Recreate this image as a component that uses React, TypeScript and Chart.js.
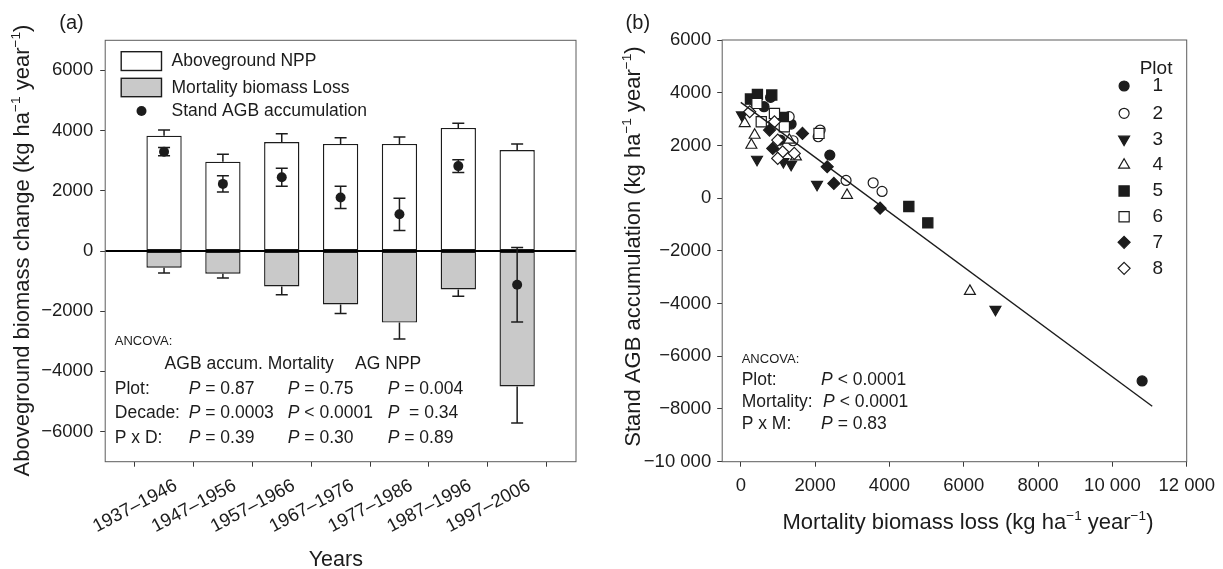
import React, { useEffect, useRef } from 'react';
import { Chart, registerables } from 'chart.js';

Chart.register(...registerables);

const FAMILY = "'Liberation Sans', Arial, Helvetica, sans-serif";
const INK = '#1c1c1c';
const TICK = '#3a3a3a';
const FRAME = '#5c5c5c';
const GREY_FILL = '#c9c9c9';

// ---------- Panel (a): decadal biomass budget ----------
const periods = ['1937–1946', '1947–1956', '1957–1966', '1967–1976', '1977–1986', '1987–1996', '1997–2006'];
const periodPos = [1, 2, 3, 4, 5, 6, 7];
const nppMean = [3833, 2967, 3622, 3556, 3556, 4089, 3356];
const nppSE = [190, 245, 270, 210, 230, 155, 200];
const mortMean = [-556, -756, -1178, -1778, -2378, -1278, -4500];
const mortSE = [177, 144, 278, 300, 544, 222, 1211];
const agbMean = [3300, 2230, 2450, 1780, 1220, 2820, -1120];
const agbSE = [135, 270, 300, 370, 535, 215, 1240];
const yTicksA = [-6000, -4000, -2000, 0, 2000, 4000, 6000];

// ---------- Panel (b): accumulation vs mortality by plot ----------
const plot1Mort = [385, 625, 802, 1354, 1062, 2396, 10800];
const plot1Accum = [3659, 3469, 3823, 2810, 2203, 1633, -6937];
const plot2Mort = [1302, 1406, 2083, 2135, 2833, 3562, 3802];
const plot2Accum = [3089, 2178, 2329, 2583, 671, 582, 253];
const plot3Mort = [30, 437, 1146, 1354, 2052, 6853];
const plot3Accum = [3152, 1469, 1380, 1279, 519, -4226];
const plot4Mort = [107, 373, 285, 1306, 1484, 2859, 6166];
const plot4Accum = [2835, 2392, 2013, 2203, 1570, 114, -3531];
const plot5Mort = [260, 448, 834, 1146, 4522, 5033];
const plot5Accum = [3760, 3937, 3912, 3064, -316, -937];
const plot6Mort = [435, 551, 906, 1172, 2105];
const plot6Accum = [3595, 2899, 3215, 2709, 2456];
const plot7Mort = [773, 1660, 861, 2326, 2505, 3749];
const plot7Accum = [2582, 2456, 1886, 1190, 557, -380];
const plot8Mort = [240, 906, 994, 1127, 994, 1439];
const plot8Accum = [3278, 2899, 2203, 1759, 1506, 1696];
const fitLineMort = [0, 11072];
const fitLineAccum = [3634, -7898];
const xTicksB = [0, 2000, 4000, 6000, 8000, 10000, 12000];
const plotLabels = ['1', '2', '3', '4', '5', '6', '7', '8'];

type Marker = { style: string; radius: number; rotation: number; filled: boolean };
const plotMarkers: Marker[] = [
  { style: 'circle', radius: 5, rotation: 0, filled: true },
  { style: 'circle', radius: 5, rotation: 0, filled: false },
  { style: 'triangle', radius: 6.3, rotation: 180, filled: true },
  { style: 'triangle', radius: 6.3, rotation: 0, filled: false },
  { style: 'rect', radius: 7.2, rotation: 0, filled: true },
  { style: 'rect', radius: 7.2, rotation: 0, filled: false },
  { style: 'rectRot', radius: 6, rotation: 0, filled: true },
  { style: 'rectRot', radius: 6, rotation: 0, filled: false },
];
const plotSeries = [
  [plot1Mort, plot1Accum], [plot2Mort, plot2Accum], [plot3Mort, plot3Accum], [plot4Mort, plot4Accum],
  [plot5Mort, plot5Accum], [plot6Mort, plot6Accum], [plot7Mort, plot7Accum], [plot8Mort, plot8Accum],
];

// ---------- text helpers ----------
type Run = { t: string; it?: boolean; sup?: boolean };
const fontOf = (size: number, it?: boolean) => `${it ? 'italic ' : ''}${size}px ${FAMILY}`;

function runsWidth(ctx: CanvasRenderingContext2D, runs: Run[], size: number) {
  let w = 0;
  for (const r of runs) {
    ctx.font = fontOf(r.sup ? size * 0.62 : size, r.it);
    w += ctx.measureText(r.t).width;
  }
  return w;
}

function drawRuns(ctx: CanvasRenderingContext2D, runs: Run[], x: number, y: number, size: number, align: 'left' | 'center' = 'left') {
  ctx.save();
  ctx.fillStyle = INK;
  ctx.textBaseline = 'middle';
  ctx.textAlign = 'left';
  let cx = align === 'center' ? x - runsWidth(ctx, runs, size) / 2 : x;
  for (const r of runs) {
    const s = r.sup ? size * 0.62 : size;
    ctx.font = fontOf(s, r.it);
    ctx.fillText(r.t, cx, r.sup ? y - size * 0.3 : y);
    cx += ctx.measureText(r.t).width;
  }
  ctx.restore();
}

function drawVertical(ctx: CanvasRenderingContext2D, runs: Run[], cx: number, cy: number, size: number) {
  ctx.save();
  ctx.translate(cx, cy);
  ctx.rotate(-Math.PI / 2);
  drawRuns(ctx, runs, 0, 0, size, 'center');
  ctx.restore();
}

const pv = (rest: string): Run[] => [{ t: 'P', it: true }, { t: rest }];
const unitRuns = (head: string): Run[] => [
  { t: head + ' (kg ha' }, { t: '−1', sup: true }, { t: ' year' }, { t: '−1', sup: true }, { t: ')' },
];

const minusFmt = (v: number) => {
  const a = Math.abs(v);
  const s = a >= 10000 ? String(a).replace(/(\d)(?=(\d{3})+$)/g, '$1 ') : String(a);
  return v < 0 ? '−' + s : s;
};

function drawMarker(ctx: CanvasRenderingContext2D, m: Marker, x: number, y: number) {
  const r = m.radius;
  let rad = (m.rotation * Math.PI) / 180;
  ctx.beginPath();
  if (m.style === 'circle') {
    ctx.arc(x, y, r, 0, Math.PI * 2);
  } else if (m.style === 'triangle') {
    for (let k = 0; k < 3; k++) {
      const px = x + Math.sin(rad) * r;
      const py = y - Math.cos(rad) * r;
      if (k === 0) ctx.moveTo(px, py); else ctx.lineTo(px, py);
      rad += (2 * Math.PI) / 3;
    }
  } else if (m.style === 'rect') {
    const s = Math.SQRT1_2 * r;
    ctx.rect(x - s, y - s, 2 * s, 2 * s);
  } else {
    ctx.moveTo(x, y - r);
    ctx.lineTo(x + r, y);
    ctx.lineTo(x, y + r);
    ctx.lineTo(x - r, y);
  }
  ctx.closePath();
  ctx.fillStyle = m.filled ? INK : '#ffffff';
  ctx.fill();
  ctx.lineWidth = 1.2;
  ctx.strokeStyle = INK;
  ctx.stroke();
}

function strokeFrame(chart: any) {
  const { ctx, chartArea: a } = chart;
  ctx.save();
  ctx.strokeStyle = FRAME;
  ctx.lineWidth = 1;
  ctx.strokeRect(a.left, a.top, a.right - a.left, a.bottom - a.top);
  ctx.restore();
}

const axisStyle = {
  grid: { drawOnChartArea: false, drawTicks: true, tickLength: 5, color: TICK, lineWidth: 1 },
  border: { display: false },
};

// ---------- panel (a) overlays ----------
const panelAPlugin = {
  id: 'panelAOverlay',
  beforeDatasetDraw(chart: any, args: any) {
    if (args.index !== 2) return;
    const { ctx, chartArea } = chart;
    const xs = chart.scales.x;
    const ys = chart.scales.y;
    ctx.save();
    const y0 = ys.getPixelForValue(0);
    ctx.strokeStyle = '#000';
    ctx.lineWidth = 2;
    ctx.beginPath();
    ctx.moveTo(chartArea.left, y0);
    ctx.lineTo(chartArea.right, y0);
    ctx.stroke();

    ctx.strokeStyle = INK;
    ctx.lineWidth = 1.5;
    const cap = 6;
    const whisker = (xv: number, from: number, to: number) => {
      const px = xs.getPixelForValue(xv);
      const a = ys.getPixelForValue(from);
      const b = ys.getPixelForValue(to);
      ctx.beginPath();
      ctx.moveTo(px, a);
      ctx.lineTo(px, b);
      ctx.moveTo(px - cap, b);
      ctx.lineTo(px + cap, b);
      ctx.stroke();
    };
    periodPos.forEach((p, i) => {
      whisker(p, nppMean[i], nppMean[i] + nppSE[i]);
      whisker(p, mortMean[i], mortMean[i] - mortSE[i]);
      whisker(p, agbMean[i], agbMean[i] + agbSE[i]);
      whisker(p, agbMean[i], agbMean[i] - agbSE[i]);
    });
    ctx.restore();
  },
  afterDraw(chart: any) {
    const ctx: CanvasRenderingContext2D = chart.ctx;
    strokeFrame(chart);

    // legend
    ctx.save();
    ctx.lineWidth = 1.4;
    ctx.strokeStyle = INK;
    ctx.fillStyle = '#ffffff';
    ctx.fillRect(121.2, 51.7, 40.3, 18.8);
    ctx.strokeRect(121.2, 51.7, 40.3, 18.8);
    ctx.fillStyle = GREY_FILL;
    ctx.fillRect(121.2, 78.3, 40.3, 18.4);
    ctx.strokeRect(121.2, 78.3, 40.3, 18.4);
    ctx.fillStyle = INK;
    ctx.beginPath();
    ctx.arc(141.5, 111, 5, 0, Math.PI * 2);
    ctx.fill();
    ctx.restore();
    drawRuns(ctx, [{ t: 'Aboveground NPP' }], 171.5, 61.5, 17.5);
    drawRuns(ctx, [{ t: 'Mortality biomass Loss' }], 171.5, 88, 17.5);
    drawRuns(ctx, [{ t: 'Stand AGB accumulation' }], 171.5, 111, 17.5);

    // ANCOVA summary
    drawRuns(ctx, [{ t: 'ANCOVA:' }], 114.8, 341, 13);
    drawRuns(ctx, [{ t: 'AGB accum. Mortality' }], 164.6, 364.3, 17.5);
    drawRuns(ctx, [{ t: 'AG NPP' }], 355.1, 364.3, 17.5);
    const rows: [string, string, string, string, number][] = [
      ['Plot:', ' = 0.87', ' = 0.75', ' = 0.004', 389],
      ['Decade:', ' = 0.0003', ' < 0.0001', '  = 0.34', 413.3],
      ['P x D:', ' = 0.39', ' = 0.30', ' = 0.89', 437.7],
    ];
    rows.forEach(([lab, c1, c2, c3, y]) => {
      drawRuns(ctx, [{ t: lab }], 114.8, y, 17.5);
      drawRuns(ctx, pv(c1), 188.7, y, 17.5);
      drawRuns(ctx, pv(c2), 287.8, y, 17.5);
      drawRuns(ctx, pv(c3), 387.7, y, 17.5);
    });

    // titles
    drawRuns(ctx, [{ t: '(a)' }], 59.3, 23.3, 20);
    drawVertical(ctx, unitRuns('Aboveground biomass change'), 23, 250.5, 22);
    drawRuns(ctx, [{ t: 'Years' }], 335.8, 560, 21.5, 'center');
  },
};

// ---------- panel (b) overlays ----------
const panelBPlugin = {
  id: 'panelBOverlay',
  afterDraw(chart: any) {
    const ctx: CanvasRenderingContext2D = chart.ctx;
    strokeFrame(chart);

    drawRuns(ctx, [{ t: 'Plot' }], 534.7, 68.3, 19);
    const legendY = [86, 113.3, 139.3, 165, 191, 216.7, 242.3, 268.3];
    plotMarkers.forEach((m, i) => {
      ctx.save();
      drawMarker(ctx, m, 519.1, legendY[i]);
      ctx.restore();
      drawRuns(ctx, [{ t: plotLabels[i] }], 547.5, legendY[i], 19);
    });

    drawRuns(ctx, [{ t: 'ANCOVA:' }], 136.7, 359, 13);
    drawRuns(ctx, [{ t: 'Plot:' }], 136.7, 380, 17.5);
    drawRuns(ctx, pv(' < 0.0001'), 216.1, 380, 17.5);
    drawRuns(ctx, [{ t: 'Mortality:' }], 136.7, 402.3, 17.5);
    drawRuns(ctx, pv(' < 0.0001'), 218.1, 402.3, 17.5);
    drawRuns(ctx, [{ t: 'P x M:' }], 136.7, 424, 17.5);
    drawRuns(ctx, pv(' = 0.83'), 216.1, 424, 17.5);

    drawRuns(ctx, [{ t: '(b)' }], 20.6, 23.3, 20);
    drawVertical(ctx, unitRuns('Stand AGB accumulation'), 28.5, 246.5, 22);
    drawRuns(ctx, unitRuns('Mortality biomass loss'), 363, 522.7, 22, 'center');
  },
};

function buildPanelA(canvas: HTMLCanvasElement) {
  return new Chart(canvas, {
    type: 'bar',
    data: {
      datasets: [
        {
          type: 'bar',
          label: 'Aboveground NPP',
          data: periodPos.map((p, i) => ({ x: p, y: nppMean[i] })),
          backgroundColor: '#ffffff',
          borderColor: INK,
          borderWidth: 1.4,
          borderSkipped: false,
          grouped: false,
          barPercentage: 0.6,
          categoryPercentage: 1,
          order: 2,
        },
        {
          type: 'bar',
          label: 'Mortality biomass Loss',
          data: periodPos.map((p, i) => ({ x: p, y: mortMean[i] })),
          backgroundColor: GREY_FILL,
          borderColor: INK,
          borderWidth: 1.4,
          borderSkipped: false,
          grouped: false,
          barPercentage: 0.6,
          categoryPercentage: 1,
          order: 1,
        },
        {
          type: 'scatter',
          label: 'Stand AGB accumulation',
          data: periodPos.map((p, i) => ({ x: p, y: agbMean[i] })),
          pointRadius: 5,
          pointBackgroundColor: INK,
          pointBorderColor: INK,
          pointBorderWidth: 0,
          order: 0,
        },
      ] as any,
    },
    options: {
      animation: false,
      responsive: false,
      devicePixelRatio: 1,
      events: [],
      layout: { padding: { top: 40.3, right: 29, left: 0, bottom: 0 }, autoPadding: false } as any,
      plugins: { legend: { display: false }, tooltip: { enabled: false } },
      scales: {
        x: {
          type: 'linear',
          min: 0,
          max: 8,
          offset: false,
          ...axisStyle,
          afterBuildTicks: (s: any) => { s.ticks = periodPos.map((v) => ({ value: v })); },
          afterFit: (s: any) => { s.height = 107.3; },
          ticks: {
            autoSkip: false,
            minRotation: 28,
            maxRotation: 28,
            padding: 8,
            labelOffset: 12,
            color: INK,
            font: { family: FAMILY, size: 18.5 },
            callback: (v: any) => periods[Number(v) - 1] ?? '',
          },
        },
        y: {
          type: 'linear',
          min: -7000,
          max: 7000,
          ...axisStyle,
          afterBuildTicks: (s: any) => { s.ticks = yTicksA.map((v) => ({ value: v })); },
          afterFit: (s: any) => { s.width = 105.2; },
          ticks: {
            padding: 7,
            color: INK,
            font: { family: FAMILY, size: 18.5 },
            callback: (v: any) => minusFmt(Number(v)),
          },
        },
      } as any,
    },
    plugins: [panelAPlugin],
  });
}

function buildPanelB(canvas: HTMLCanvasElement) {
  const scatterSets = plotSeries.map(([xs, ys], i) => {
    const m = plotMarkers[i];
    return {
      type: 'scatter',
      label: 'Plot ' + plotLabels[i],
      data: xs.map((x, k) => ({ x, y: ys[k] })),
      pointStyle: m.style,
      pointRadius: m.radius,
      pointRotation: m.rotation,
      pointBackgroundColor: m.filled ? INK : '#ffffff',
      pointBorderColor: INK,
      pointBorderWidth: 1.2,
      order: 8 - i,
    };
  });
  return new Chart(canvas, {
    type: 'scatter',
    data: {
      datasets: [
        ...scatterSets,
        {
          type: 'line',
          label: 'fit',
          data: fitLineMort.map((x, k) => ({ x, y: fitLineAccum[k] })),
          borderColor: INK,
          borderWidth: 1.4,
          pointRadius: 0,
          fill: false,
          order: -1,
        },
      ] as any,
    },
    options: {
      animation: false,
      responsive: false,
      devicePixelRatio: 1,
      events: [],
      layout: { padding: { top: 40, right: 31.5, left: 0, bottom: 0 }, autoPadding: false } as any,
      plugins: { legend: { display: false }, tooltip: { enabled: false } },
      scales: {
        x: {
          type: 'linear',
          min: -500,
          max: 12000,
          ...axisStyle,
          afterBuildTicks: (s: any) => { s.ticks = xTicksB.map((v) => ({ value: v })); },
          afterFit: (s: any) => { s.height = 107.3; },
          ticks: {
            autoSkip: false,
            maxRotation: 0,
            minRotation: 0,
            padding: 8,
            color: INK,
            font: { family: FAMILY, size: 18.5 },
            callback: (v: any) => minusFmt(Number(v)),
          },
        },
        y: {
          type: 'linear',
          min: -10000,
          max: 6000,
          ...axisStyle,
          afterFit: (s: any) => { s.width = 117.2; },
          ticks: {
            stepSize: 2000,
            padding: 6,
            color: INK,
            font: { family: FAMILY, size: 18.5 },
            callback: (v: any) => minusFmt(Number(v)),
          },
        },
      } as any,
    },
    plugins: [panelBPlugin],
  });
}

export default function App() {
  const refA = useRef<HTMLCanvasElement>(null);
  const refB = useRef<HTMLCanvasElement>(null);

  useEffect(() => {
    if (!refA.current || !refB.current) return;
    const a = buildPanelA(refA.current);
    const b = buildPanelB(refB.current);
    return () => {
      a.destroy();
      b.destroy();
    };
  }, []);

  return (
    <div style={{ position: 'absolute', left: 0, top: 0, width: 1223, height: 569, background: '#ffffff', overflow: 'hidden' }}>
      <canvas ref={refA} width={605} height={569} style={{ position: 'absolute', left: 0, top: 0, width: 605, height: 569 }} />
      <canvas ref={refB} width={618} height={569} style={{ position: 'absolute', left: 605, top: 0, width: 618, height: 569 }} />
    </div>
  );
}
